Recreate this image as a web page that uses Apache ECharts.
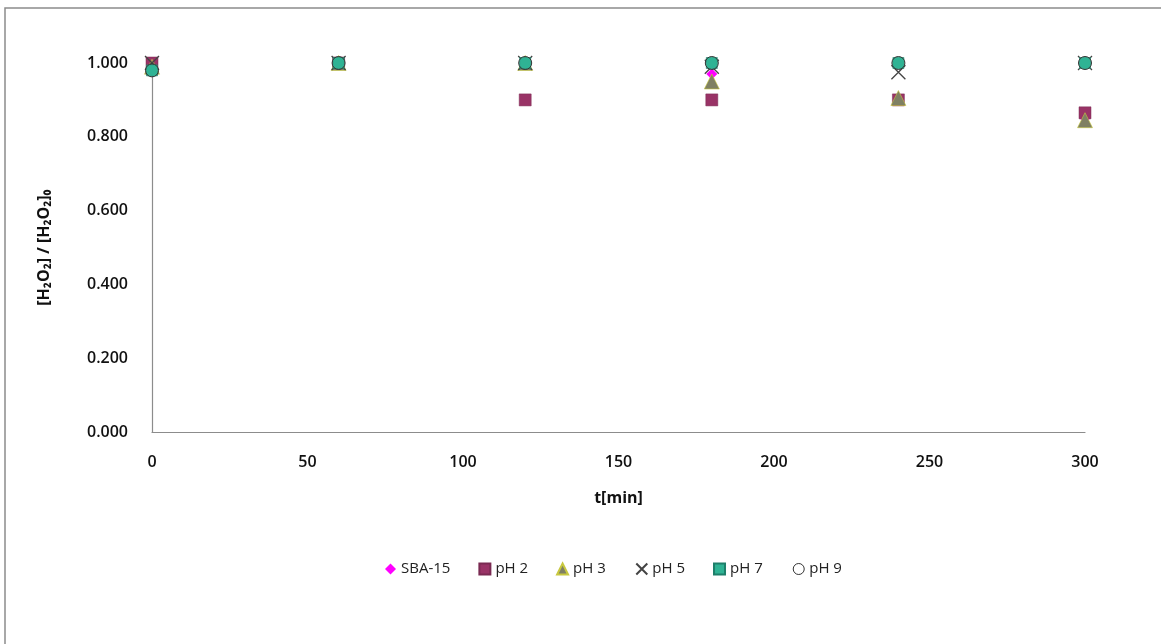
<!DOCTYPE html>
<html><head><meta charset="utf-8">
<script src="https://cdn.jsdelivr.net/npm/echarts@6/dist/echarts.min.js"></script>
<style>html,body{margin:0;padding:0;background:#fff}#c{width:1161px;height:644px}</style>
</head><body><div id="c"></div>
<script>
const times = [0, 60, 120, 180, 240, 300];
const sba15 = [1.0, 1.0, 1.0, 0.97, 0.9, 0.85];
const ph2 = [1.0, 1.0, 0.9, 0.9, 0.9, 0.865];
const ph3 = [0.99, 1.0, 1.0, 0.95, 0.905, 0.845];
const ph5 = [1.0, 1.0, 1.0, 0.99, 0.975, 1.0];
const ph7 = [0.98, 1.0, 1.0, 1.0, 1.0, 1.0];
const ph9 = [0.98, 1.0, 1.0, 1.0, 1.0, 1.0];
const seriesNames = ['SBA-15', 'pH 2', 'pH 3', 'pH 5', 'pH 7', 'pH 9'];

const pair = arr => times.map((t, i) => [t, arr[i]]);
const font = '"Open Sans", "DejaVu Sans", sans-serif';

const chart = echarts.init(document.getElementById('c'));
chart.setOption({
  animation: false,
  backgroundColor: '#fff',
  graphic: [{
    type: 'rect', shape: {x: 5, y: 8, width: 1200, height: 700},
    style: {fill: 'none', stroke: '#8c8c8c', lineWidth: 1.5}, silent: true
  }],
  grid: {left: 152, right: 76, top: 63, bottom: 212},
  legend: {
    top: 556, left: 380, itemGap: 28, itemWidth: 11, itemHeight: 11,
    textStyle: {fontFamily: font, fontSize: 15, color: '#222'},
    data: seriesNames.map(n => n === 'pH 9'
      ? {name: n, itemStyle: {color: 'none', borderColor: '#333', borderWidth: 1}}
      : {name: n})
  },
  xAxis: {
    type: 'value', min: 0, max: 300, interval: 50,
    name: 't[min]', nameLocation: 'middle', nameGap: 58,
    nameTextStyle: {fontFamily: font, fontSize: 16, fontWeight: 'bold', color: '#111'},
    axisLine: {lineStyle: {color: '#8c8c8c', width: 1.2}},
    axisTick: {show: false},
    splitLine: {show: false},
    axisLabel: {fontFamily: font, fontSize: 16, fontWeight: 600, color: '#111', margin: 22}
  },
  yAxis: {
    type: 'value', min: 0, max: 1, interval: 0.2,
    name: '[H₂O₂] / [H₂O₂]₀', nameLocation: 'middle', nameGap: 100,
    nameTextStyle: {fontFamily: font, fontSize: 16, fontWeight: 'bold', color: '#111'},
    axisLine: {show: true, lineStyle: {color: '#8c8c8c', width: 1.2}},
    axisTick: {show: false},
    splitLine: {show: false},
    axisLabel: {fontFamily: font, fontSize: 16, fontWeight: 600, color: '#111', margin: 24,
      formatter: v => v.toFixed(3)}
  },
  series: [
    {name: 'SBA-15', type: 'scatter', data: pair(sba15), symbol: 'diamond', symbolSize: 11,
      itemStyle: {color: '#ff00ff', opacity: 1}},
    {name: 'pH 2', type: 'scatter', data: pair(ph2), symbol: 'rect', symbolSize: 12,
      itemStyle: {color: '#993366', borderColor: '#7a2a52', borderWidth: 0.5, opacity: 1}},
    {name: 'pH 3', type: 'scatter', data: pair(ph3), symbol: 'triangle', symbolSize: 15,
      itemStyle: {color: '#7f8063', borderColor: '#c8c840', borderWidth: 0.6, opacity: 1}},
    {name: 'pH 5', type: 'scatter', data: pair(ph5), symbol: 'path://M0,0L10,10M10,0L0,10', symbolSize: 14,
      itemStyle: {color: 'none', borderColor: '#444', borderWidth: 1.3, opacity: 1}},
    {name: 'pH 7', type: 'scatter', data: pair(ph7), symbol: 'rect', symbolSize: 11,
      itemStyle: {color: '#2fb394', borderColor: '#1e7f6a', borderWidth: 0.6, opacity: 1}},
    {name: 'pH 9', type: 'scatter', data: pair(ph9), symbol: 'circle', symbolSize: 13,
      itemStyle: {color: 'rgba(47,179,148,0.55)', borderColor: '#333', borderWidth: 1, opacity: 1}}
  ]
});
</script></body></html>
